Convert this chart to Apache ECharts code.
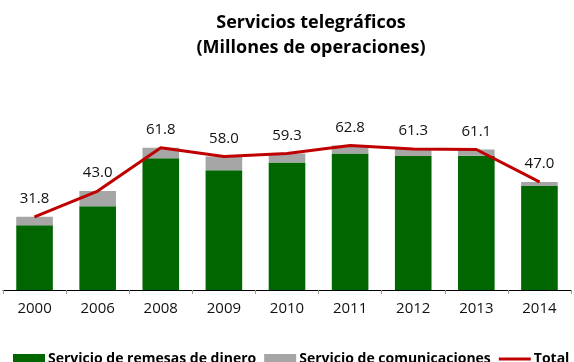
<!DOCTYPE html>
<html>
<head>
<meta charset="utf-8">
<script src="https://cdn.jsdelivr.net/npm/echarts@6/dist/echarts.min.js"></script>
<style>
  html, body { margin: 0; padding: 0; background: #fff; }
  #chart { width: 574px; height: 362px; }
</style>
</head>
<body>
<div id="chart"></div>
<script>
// Telegraph services, millions of operations per year
const years = ['2000', '2006', '2008', '2009', '2010', '2011', '2012', '2013', '2014'];
const remesas = [28.2, 36.4, 57.3, 52.1, 55.4, 59.3, 58.3, 58.4, 45.2];
const comunicaciones = [3.6, 6.6, 4.5, 5.9, 3.9, 3.5, 3.0, 2.7, 1.8];
const total = [31.8, 43.0, 61.8, 58.0, 59.3, 62.8, 61.3, 61.1, 47.0];

const chart = echarts.init(document.getElementById('chart'));

chart.setOption({
  animation: false,
  backgroundColor: '#ffffff',
  title: {
    text: 'Servicios telegráficos\n(Millones de operaciones)',
    left: 306,
    textAlign: 'center',
    top: 5,
    textStyle: {
      fontFamily: 'Open Sans',
      fontWeight: 'bold',
      fontSize: 18,
      lineHeight: 25,
      color: '#000'
    }
  },
  legend: {
    left: 8,
    top: 347,
    width: 800,
    itemWidth: 32,
    itemHeight: 10,
    itemGap: 8,
    textStyle: {
      fontFamily: 'Open Sans',
      fontWeight: 'bold',
      fontSize: 14,
      color: '#000',
      padding: [0, 0, 0, -2]
    },
    data: [
      { name: 'Servicio de remesas de dinero', icon: 'rect' },
      { name: 'Servicio de comunicaciones', icon: 'rect' },
      { name: 'Total', icon: 'path://M0,0L32,0L32,3L0,3Z' }
    ]
  },
  grid: { left: 3, right: 3, top: 129, bottom: 72 },
  xAxis: {
    type: 'category',
    data: years,
    axisLine: { lineStyle: { color: '#000', width: 1 } },
    axisTick: { show: true, length: 4, lineStyle: { color: '#999' } },
    axisLabel: {
      fontFamily: 'Open Sans',
      fontSize: 15,
      color: '#111',
      margin: 11
    }
  },
  yAxis: {
    type: 'value',
    min: 0,
    max: 70,
    show: false,
    splitLine: { show: false }
  },
  series: [
    {
      name: 'Servicio de remesas de dinero',
      type: 'bar',
      stack: 'ops',
      data: remesas,
      barWidth: '58%',
      itemStyle: { color: '#006600' }
    },
    {
      name: 'Servicio de comunicaciones',
      type: 'bar',
      stack: 'ops',
      data: comunicaciones,
      itemStyle: { color: '#a6a6a6' }
    },
    {
      name: 'Total',
      type: 'line',
      data: total,
      symbol: 'circle',
      symbolSize: 1,
      lineStyle: { color: '#c00000', width: 3 },
      itemStyle: { color: '#c00000' },
      label: {
        show: true,
        position: 'top',
        distance: 10,
        fontFamily: 'Open Sans',
        fontSize: 15,
        color: '#111',
        formatter: p => p.value.toFixed(1)
      }
    }
  ]
});
</script>
</body>
</html>
